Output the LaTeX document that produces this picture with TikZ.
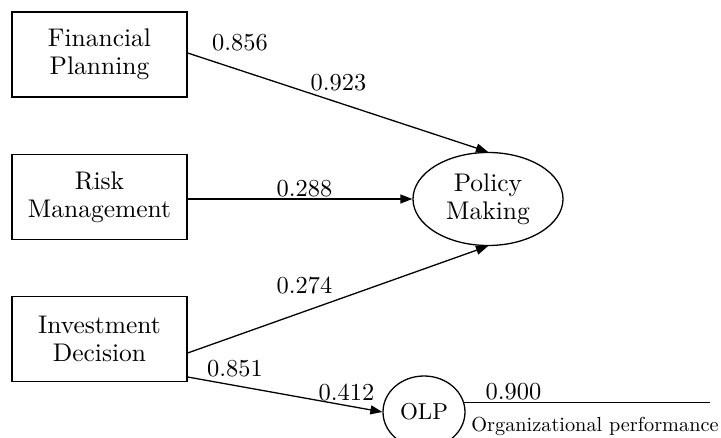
\documentclass[tikz,border=0pt]{standalone}
\usepackage{fontspec}
\setmainfont{lmroman10-regular}[Extension=.otf]
\usetikzlibrary{shapes.geometric,arrows.meta}
\begin{document}
\begin{tikzpicture}[x=1pt,y=-1pt,
  boxnode/.style={draw,line width=1.3pt,minimum width=175pt,minimum height=85pt,inner sep=0pt,align=center,font=\fontsize{25.5}{28}\selectfont},
  ellnode/.style={draw,ellipse,line width=1.3pt,inner sep=0pt,align=center},
  lab/.style={inner sep=0pt,font=\fontsize{24.4}{28}\selectfont},
  conn/.style={line width=1.3pt},
  arr/.style={conn,-{Triangle[length=12pt,width=9pt]}}]
\useasboundingbox (0,0) rectangle (721,438);
\node[boxnode] (fp) at (99.5,54.5) {Financial\\Planning};
\node[boxnode] (rm) at (99.5,197) {Risk\\Management};
\node[boxnode] (id) at (99.5,339) {Investment\\Decision};
\node[ellnode,minimum width=150pt,minimum height=93pt,font=\fontsize{25.5}{28}\selectfont] (pm) at (488,199) {Policy\\Making};
\node[ellnode,minimum width=82pt,minimum height=72pt,font=\fontsize{23}{26}\selectfont] (olp) at (424,412) {OLP};
\coordinate (opend) at (710,403);
\draw[arr] (fp.east |- 0,53) -- (pm.north);
\draw[arr] (rm.east |- 0,199) -- (pm.west);
\draw[arr] (id.east |- 0,353) -- (pm.south);
\draw[arr] (id.east |- 0,377) -- (olp.west);
\draw[conn] (olp.13) -- (olp.13 -| opend);
\node[lab] (l1) at (240,43) {0.856};
\node[lab] (l2) at (338.5,83) {0.923};
\node[lab] (l3) at (304.5,189) {0.288};
\node[lab] (l4) at (304.5,285.5) {0.274};
\node[lab] (l5) at (235,369) {0.851};
\node[lab] (l6) at (346.5,393) {0.412};
\node[lab] (l7) at (513.5,392) {0.900};
\node[inner sep=0pt,font=\fontsize{20.3}{24}\selectfont] (l8) at (595,426) {Organizational performance};
\end{tikzpicture}
\end{document}
